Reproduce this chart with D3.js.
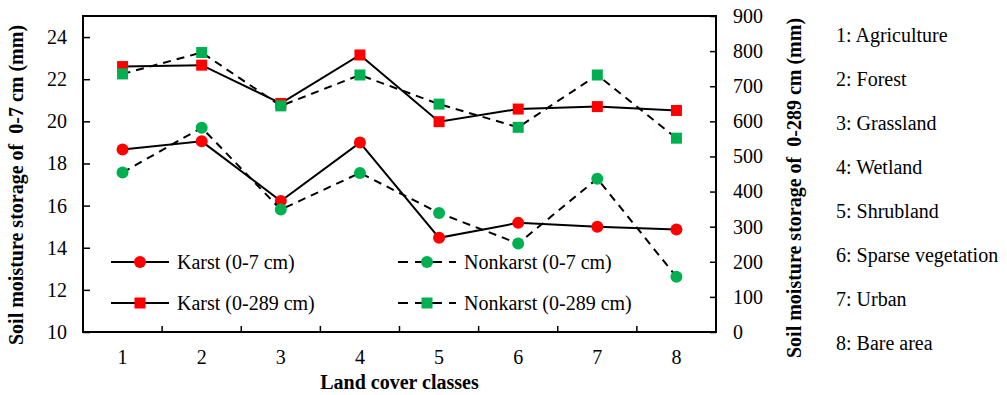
<!DOCTYPE html>
<html><head><meta charset="utf-8">
<script src="https://cdn.jsdelivr.net/npm/d3@7"></script>
<style>body{margin:0;background:#fff}svg{display:block}svg text{font-family:'Times New Roman','Liberation Serif','DejaVu Serif',serif !important;fill:#000;white-space:pre}</style>
</head><body><svg id="c" width="1007" height="395" font-family="Times New Roman, Liberation Serif, serif"></svg>
<script>
const categories = ["1","2","3","4","5","6","7","8"];
const classNames = ["Agriculture","Forest","Grassland","Wetland","Shrubland","Sparse vegetation","Urban","Bare area"];
const karst07 = [18.66, 19.05, 16.22, 18.99, 14.47, 15.18, 15.00, 14.87];
const nonkarst07 = [17.57, 19.70, 15.81, 17.55, 15.65, 14.20, 17.28, 12.62];
const karst289 = [756, 760, 651, 789, 599, 635, 642, 631];
const nonkarst289 = [735, 796, 644, 732, 649, 583, 732, 552];
const leftTicks = [10,12,14,16,18,20,22,24];
const rightTicks = [0,100,200,300,400,500,600,700,800,900];

const FONT = "'Times New Roman','Liberation Serif','DejaVu Serif',serif";
const svg = d3.select("#c");
const L = 83, R = 716, T = 16, B = 332;
const x = d3.scaleBand().domain(categories).range([L, R]).padding(0);
const yL = d3.scaleLinear().domain([10, 25]).range([B, T]);
const yR = d3.scaleLinear().domain([0, 900]).range([B, T]);

// axes
const gl = svg.append("g").attr("transform", `translate(${L},0)`)
  .call(d3.axisLeft(yL).tickValues(leftTicks).tickSizeInner(-7).tickSizeOuter(0).tickPadding(16));
const gr = svg.append("g").attr("transform", `translate(${R},0)`)
  .call(d3.axisRight(yR).tickValues(rightTicks).tickSizeInner(-6).tickSizeOuter(0).tickPadding(17));
const gb = svg.append("g").attr("transform", `translate(0,${B})`)
  .call(d3.axisBottom(x).tickSize(0).tickPadding(18));
[gl, gr, gb].forEach(g => {
  g.attr("font-family", FONT).attr("font-size", 20);
  g.select(".domain").remove();
  g.selectAll("text").style("font-size", "20px").style("font-family", FONT);
  g.selectAll("line").attr("stroke", "#000").attr("stroke-width", 1.5);
});
// category boundary ticks
svg.append("g").selectAll("line").data(categories.slice(1)).join("line")
  .attr("x1", d => x(d)).attr("x2", d => x(d)).attr("y1", B).attr("y2", B - 6)
  .attr("stroke", "#000").attr("stroke-width", 1.5);

// frame
svg.append("rect").attr("x", L).attr("y", T).attr("width", R - L).attr("height", B - T)
  .attr("fill", "none").attr("stroke", "#000").attr("stroke-width", 2);

const red = "#ff0000", green = "#00b050";
const series = [
  {name: "Karst (0-7 cm)", vals: karst07, y: yL, dash: null, color: red, shape: "circle"},
  {name: "Nonkarst (0-7 cm)", vals: nonkarst07, y: yL, dash: "8,6", color: green, shape: "circle"},
  {name: "Karst (0-289 cm)", vals: karst289, y: yR, dash: null, color: red, shape: "square"},
  {name: "Nonkarst (0-289 cm)", vals: nonkarst289, y: yR, dash: "8,6", color: green, shape: "square"}
];
const cx = d => x(d) + x.bandwidth() / 2;

function marker(g, shape, color, px, py) {
  if (shape === "circle") g.append("circle").attr("cx", px).attr("cy", py).attr("r", 6).attr("fill", color);
  else g.append("rect").attr("x", px - 5.5).attr("y", py - 5.5).attr("width", 11).attr("height", 11).attr("fill", color);
}

series.forEach(s => {
  const line = d3.line().x((v, i) => cx(categories[i])).y(v => s.y(v));
  svg.append("path").attr("d", line(s.vals)).attr("fill", "none").attr("stroke", "#000")
    .attr("stroke-width", 2).attr("stroke-dasharray", s.dash);
  const g = svg.append("g");
  s.vals.forEach((v, i) => marker(g, s.shape, s.color, cx(categories[i]), s.y(v)));
});

// legend
const legPos = [[111, 262], [398, 262], [111, 303], [398, 303]];
series.forEach((s, i) => {
  const [lx, ly] = legPos[i];
  const g = svg.append("g");
  g.append("line").attr("x1", lx).attr("x2", lx + 58).attr("y1", ly).attr("y2", ly)
    .attr("stroke", "#000").attr("stroke-width", 2).attr("stroke-dasharray", s.dash ? "10,7" : null);
  marker(g, s.shape, s.color, lx + 29, ly);
  g.append("text").attr("x", lx + 66).attr("y", ly + 7).style("font-size", "20px").style("font-family", FONT).text(s.name);
});

// axis titles
svg.append("text").attr("transform", "translate(23,185) rotate(-90)").attr("text-anchor", "middle")
  .style("font-size", "20px").style("font-weight", "bold").style("font-family", FONT).text("Soil moisture storage of  0-7 cm (mm)");
svg.append("text").attr("transform", "translate(801,188) rotate(-90)").attr("text-anchor", "middle")
  .style("font-size", "20px").style("font-weight", "bold").style("font-family", FONT).text("Soil moisture storage of  0-289 cm (mm)");
svg.append("text").attr("x", (L + R) / 2).attr("y", 389).attr("text-anchor", "middle")
  .style("font-size", "20px").style("font-weight", "bold").style("font-family", FONT).text("Land cover classes");

// class list
svg.append("g").selectAll("text").data(categories).join("text")
  .attr("x", 836).attr("y", (d, i) => 42 + i * 44).style("font-size", "20px").style("font-family", FONT)
  .text((d, i) => `${d}: ${classNames[i]}`);
</script></body></html>
